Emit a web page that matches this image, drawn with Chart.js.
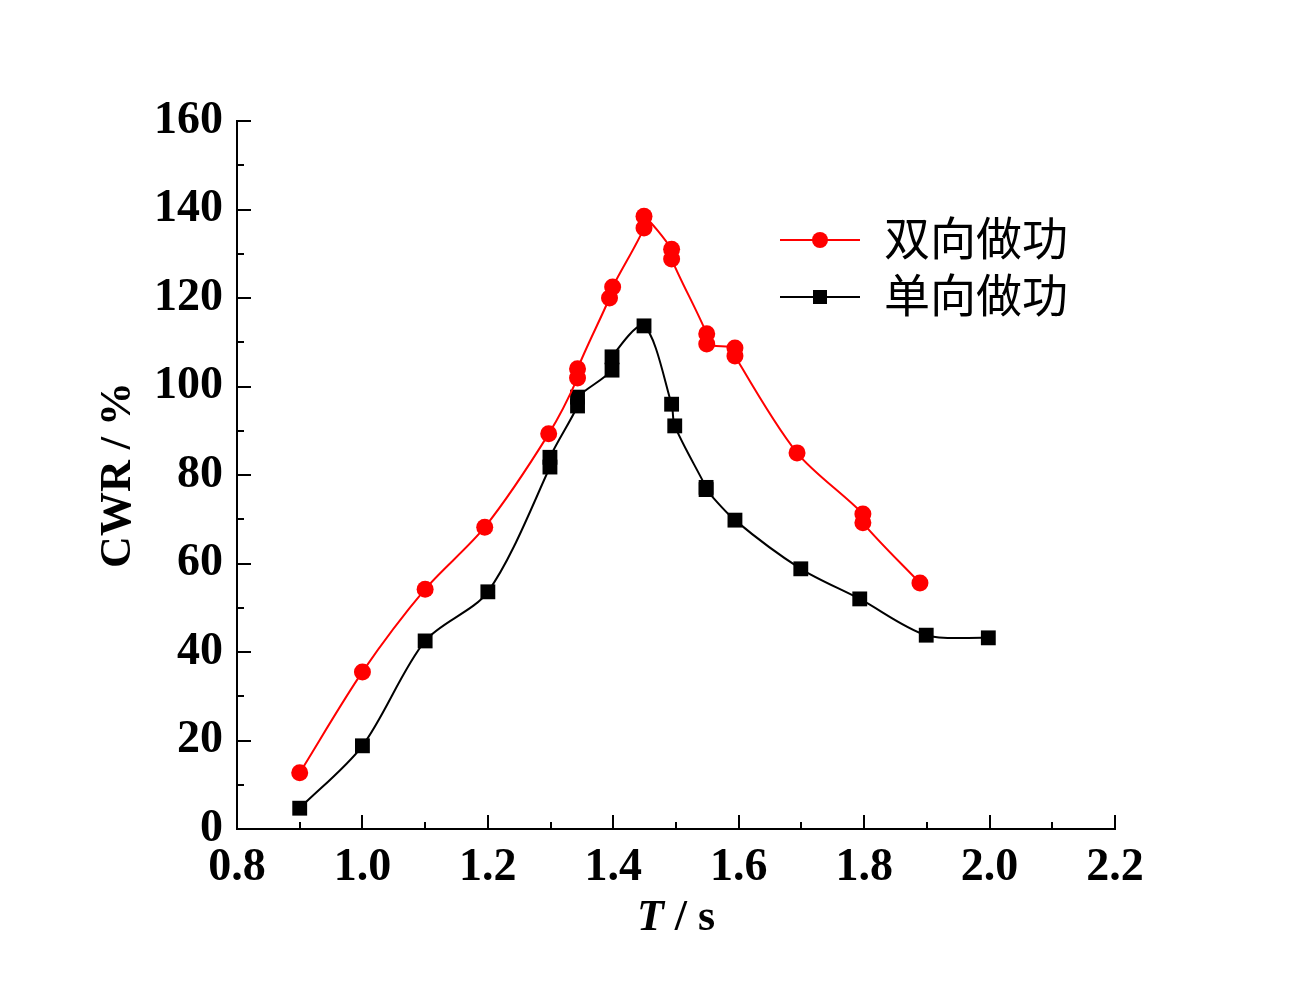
<!DOCTYPE html>
<html>
<head>
<meta charset="utf-8">
<script src="https://cdn.jsdelivr.net/npm/chart.js@4"></script>
<style>
  body { margin: 0; background: #fff; }
  #wrap { width: 1308px; height: 1004px; }
</style>
</head>
<body>
<div id="wrap"><canvas id="cwr_chart" width="1308" height="1004"></canvas></div>
<script>
// wave period T (s) and capture width ratio (%)
var tTwoWay   = [0.9, 1.0, 1.1, 1.195, 1.297, 1.343, 1.343, 1.394, 1.399, 1.449, 1.449, 1.493, 1.493, 1.549, 1.549, 1.594, 1.594, 1.693, 1.798, 1.798, 1.889];
var cwrTwoWay = [12.7, 35.5, 54.2, 68.2, 89.3, 101.9, 104.0, 120.0, 122.5, 135.8, 138.5, 131.0, 128.8, 111.9, 109.6, 108.7, 106.9, 85.0, 71.2, 69.2, 55.6];

var tOneWay   = [0.9, 1.0, 1.1, 1.2, 1.299, 1.299, 1.343, 1.343, 1.398, 1.398, 1.449, 1.493, 1.498, 1.548, 1.548, 1.594, 1.699, 1.793, 1.899, 1.998];
var cwrOneWay = [4.7, 18.8, 42.5, 53.6, 81.8, 84.0, 95.6, 97.6, 103.7, 106.7, 113.7, 96.0, 91.1, 77.2, 76.7, 69.8, 58.8, 52.0, 43.8, 43.2];

var seriesNames = ["双向做功", "单向做功"];
var xTicks = [0.8, 1.0, 1.2, 1.4, 1.6, 1.8, 2.0, 2.2];
var yTicks = [0, 20, 40, 60, 80, 100, 120, 140, 160];

function toPoints(xs, ys) {
  return xs.map(function (x, i) { return { x: x, y: ys[i] }; });
}

var tickFont = { family: "'Liberation Serif', 'Times New Roman', serif", size: 46, weight: 'bold' };

// inward major/minor tick marks + x title + legend
var decorPlugin = {
  id: 'decor',
  afterDraw: function (chart) {
    var ctx = chart.ctx, a = chart.chartArea;
    var xs = chart.scales.x, ys = chart.scales.y;
    ctx.save();
    ctx.strokeStyle = '#000';
    ctx.lineWidth = 2;
    ctx.beginPath();
    for (var v = 0.8; v <= 2.2001; v += 0.1) {
      var px = Math.round(xs.getPixelForValue(v));
      var major = Math.abs(Math.round(v * 10) % 2) === 0;
      ctx.moveTo(px, a.bottom);
      ctx.lineTo(px, a.bottom - (major ? 14 : 7));
    }
    for (var w = 0; w <= 160; w += 10) {
      var py = Math.round(ys.getPixelForValue(w));
      var maj = w % 20 === 0;
      ctx.moveTo(a.left, py);
      ctx.lineTo(a.left + (maj ? 14 : 7), py);
    }
    ctx.stroke();

    // x axis title: italic T
    ctx.fillStyle = '#000';
    ctx.textBaseline = 'alphabetic';
    var f1 = "italic bold 44px 'Liberation Serif', serif";
    var f2 = "bold 44px 'Liberation Serif', serif";
    ctx.font = f1; var w1 = ctx.measureText('T').width;
    ctx.font = f2; var w2 = ctx.measureText(' / s').width;
    var cx = (a.left + a.right) / 2 - (w1 + w2) / 2;
    var by = a.bottom + 101;
    ctx.font = f1; ctx.fillText('T', cx, by);
    ctx.font = f2; ctx.fillText(' / s', cx + w1, by);

    // legend
    chart.data.datasets.forEach(function (ds, i) {
      var ly = a.top + 119 + i * 57;
      var lx = a.left + 543;
      ctx.strokeStyle = ds.borderColor;
      ctx.lineWidth = 2;
      ctx.beginPath();
      ctx.moveTo(lx, ly);
      ctx.lineTo(lx + 80, ly);
      ctx.stroke();
      ctx.fillStyle = ds.pointBackgroundColor;
      if (ds.pointStyle === 'circle') {
        ctx.beginPath();
        ctx.arc(lx + 40, ly, 8, 0, Math.PI * 2);
        ctx.fill();
      } else {
        ctx.fillRect(lx + 40 - 7, ly - 7, 14, 14);
      }
      ctx.fillStyle = '#000';
      ctx.font = "46px 'Noto Sans CJK SC', sans-serif";
      ctx.textBaseline = 'middle';
      ctx.fillText(ds.label, lx + 104, ly - 2);
    });
    ctx.restore();
  }
};

new Chart(document.getElementById("cwr_chart"), {
  type: 'line',
  data: {
    datasets: [
      {
        label: seriesNames[0],
        data: toPoints(tTwoWay, cwrTwoWay),
        borderColor: '#ff0000',
        backgroundColor: '#ff0000',
        pointBackgroundColor: '#ff0000',
        pointBorderWidth: 0,
        pointStyle: 'circle',
        pointRadius: 8.5,
        borderWidth: 2,
        tension: 0.3,
        fill: false
      },
      {
        label: seriesNames[1],
        data: toPoints(tOneWay, cwrOneWay),
        borderColor: '#000000',
        backgroundColor: '#000000',
        pointBackgroundColor: '#000000',
        pointBorderWidth: 0,
        pointStyle: 'rect',
        pointRadius: 10.5,
        borderWidth: 2,
        tension: 0.3,
        fill: false
      }
    ]
  },
  options: {
    responsive: false,
    animation: false,
    layout: { padding: { left: 0, right: 193, top: 121, bottom: 0 } },
    plugins: {
      legend: { display: false },
      tooltip: { enabled: false }
    },
    scales: {
      x: {
        type: 'linear',
        min: 0.8,
        max: 2.2,
        afterFit: function (s) { s.height = 175; },
        afterBuildTicks: function (s) { s.ticks = xTicks.map(function (v) { return { value: v }; }); },
        ticks: {
          font: tickFont,
          color: '#000',
          padding: 12,
          maxRotation: 0,
          callback: function (v) { return Number(v).toFixed(1); }
        },
        grid: { display: true, drawOnChartArea: false, drawTicks: false, color: '#000' },
        border: { display: true, color: '#000', width: 2 }
      },
      y: {
        min: 0,
        max: 160,
        afterFit: function (s) { s.width = 237; },
        afterBuildTicks: function (s) { s.ticks = yTicks.map(function (v) { return { value: v }; }); },
        ticks: { font: tickFont, color: '#000', padding: 14 },
        grid: { display: true, drawOnChartArea: false, drawTicks: false, color: '#000' },
        border: { display: true, color: '#000', width: 2 },
        title: {
          display: true,
          text: 'CWR / %',
          color: '#000',
          font: { family: "'Liberation Serif', 'Times New Roman', serif", size: 44, weight: 'bold' },
          padding: { top: 92, bottom: 0 }
        }
      }
    }
  },
  plugins: [decorPlugin]
});
</script>
</body>
</html>
